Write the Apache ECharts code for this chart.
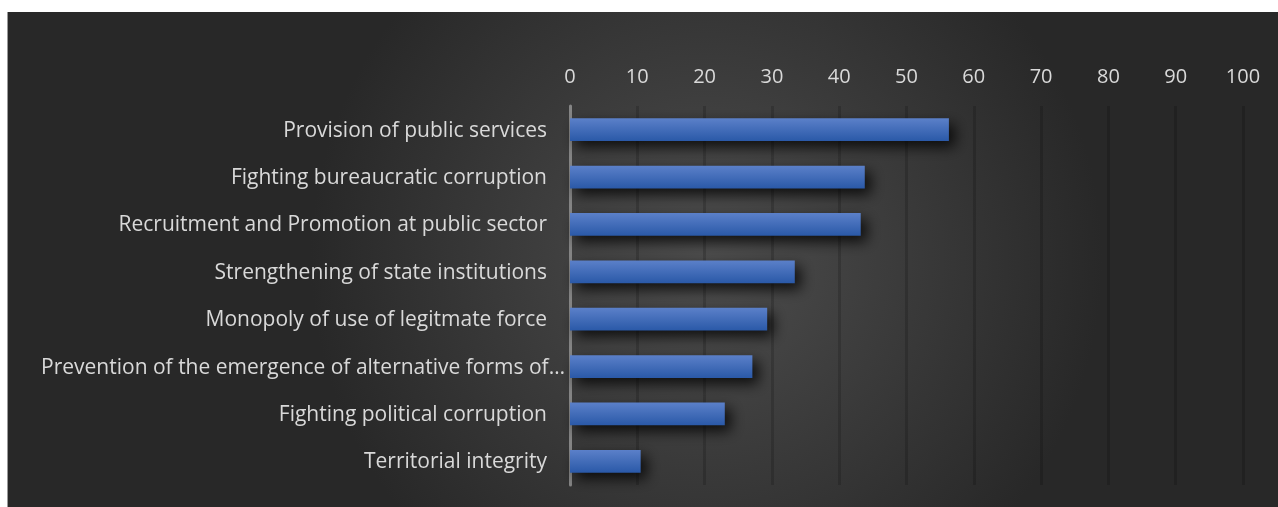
<!DOCTYPE html>
<html><head><meta charset="utf-8">
<script src="https://cdn.jsdelivr.net/npm/echarts@6/dist/echarts.min.js"></script>
<style>
html,body{margin:0;padding:0;background:#fff;width:1278px;height:507px;overflow:hidden;}
#c{position:absolute;left:7px;top:12px;width:1271px;height:495px;border-left:1px solid #9a9a9a;box-sizing:border-box;}
</style></head>
<body><div id="c"></div>
<script>
const categories = [
  "Provision of public services",
  "Fighting bureaucratic corruption",
  "Recruitment and Promotion at public sector",
  "Strengthening of state institutions",
  "Monopoly of use of legitmate force",
  "Prevention of the emergence of alternative forms of…",
  "Fighting political corruption",
  "Territorial integrity"
];
const values = [56.3, 43.8, 43.2, 33.4, 29.3, 27.1, 23.0, 10.5];
const xTicks = [0,10,20,30,40,50,60,70,80,90,100];

const chart = echarts.init(document.getElementById('c'));
chart.setOption({
  backgroundColor: {
    type: 'radial', x: 0.55, y: 0.5, r: 0.8,
    colorStops: [{offset:0,color:'#4d4d4d'},{offset:1,color:'#282828'}]
  },
  animation: false,
  grid: {left: 562, right: 35, top: 94, bottom: 22},
  xAxis: {
    type: 'value', position: 'top', min: 0, max: 100, interval: 10,
    axisLine: {show: false}, axisTick: {show: false},
    axisLabel: {color: '#d9d9d9', fontSize: 20, fontFamily: 'Open Sans', margin: 19,
      formatter: v => xTicks.includes(v) ? String(v) : ''},
    splitLine: {show: true, lineStyle: {color: 'rgba(0,0,0,0.16)', width: 3}}
  },
  yAxis: {
    type: 'category', data: categories, inverse: true,
    axisLine: {show: true, lineStyle: {color: '#858585', width: 3}},
    axisTick: {show: false},
    axisLabel: {
      color: '#d9d9d9', fontSize: 21, fontFamily: 'Open Sans', margin: 5,
      formatter: (v, i) => i === 5 ? '{b|' + v + '}' : '{a|' + v + '}',
      rich: {
        a: {color: '#d9d9d9', fontSize: 21, fontFamily: 'Open Sans', padding: [2, 18, 0, 0]},
        b: {color: '#d9d9d9', fontSize: 21, fontFamily: 'Open Sans', padding: [2, 0, 0, 0]}
      }
    }
  },
  series: [{
    type: 'bar', data: values, barWidth: '48%',
    itemStyle: {
      color: {type:'linear', x:0, y:0, x2:0, y2:1,
        colorStops:[{offset:0,color:'#5b80c9'},{offset:1,color:'#2a59a8'}]},
      shadowColor: 'rgba(0,0,0,0.8)', shadowBlur: 14, shadowOffsetX: 6, shadowOffsetY: 6
    }
  }]
});
</script></body></html>
